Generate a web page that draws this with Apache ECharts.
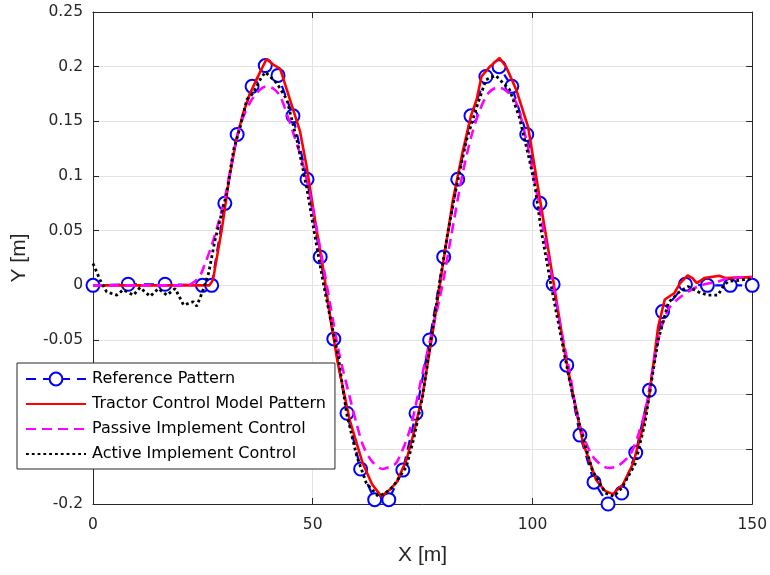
<!DOCTYPE html>
<html>
<head>
<meta charset="utf-8">
<script src="https://cdn.jsdelivr.net/npm/echarts@6/dist/echarts.min.js"></script>
<style>
  html, body { margin: 0; padding: 0; background: #fff; }
  #chart { width: 770px; height: 575px; }
</style>
</head>
<body>
<div id="chart"></div>
<script>
// Lateral offset Y [m] along travel distance X [m]

// Reference pattern (marked points)
const refX = [0, 8, 16.4, 24.9, 27.0, 30, 32.8, 36.2, 39.2, 42.1, 45.5, 48.7, 51.7, 54.8, 57.8, 60.9, 64.1, 67.3,
  70.5, 73.5, 76.6, 79.8, 83, 86, 89.4, 92.4, 95.3, 98.7, 101.7, 104.7, 107.8, 110.8, 114, 117.2, 120.3,
  123.5, 126.6, 129.6, 134.8, 139.8, 145, 150];
const refY = [0, 0.001, 0.001, 0, 0, 0.075, 0.138, 0.182, 0.201, 0.192, 0.155, 0.097, 0.026, -0.049, -0.117, -0.168, -0.196, -0.196,
  -0.169, -0.117, -0.05, 0.026, 0.097, 0.155, 0.191, 0.2, 0.182, 0.138, 0.075, 0.001, -0.073, -0.137, -0.18, -0.2, -0.19,
  -0.153, -0.096, -0.024, 0.001, 0, 0, 0];

// Tractor control model pattern
const tractorX = [0, 26.5, 27.3, 29.3, 31, 32.6, 34.2, 35.8, 38, 39.5, 41, 42.6, 44.8, 47.1, 48.6, 50.5, 52.5, 54, 55.7,
  58.4, 61.3, 63.5, 65.6, 67.5, 69.1, 71.3, 73, 75, 77.3, 79.5, 81.9, 84, 86, 87.3, 88.4, 90.3, 92.5, 94, 96.3, 99,
  100.1, 101.6, 103.5, 105.5, 107.5, 109.5, 111.5, 114.5, 116.5, 118.3, 120.6, 122.9, 124.8, 126.6, 128.6, 130.1,
  132.3, 133.6, 135.3, 136.4, 137.4, 139.1, 142.5, 144, 150];
const tractorY = [0, 0, 0.005, 0.051, 0.098, 0.133, 0.158, 0.176, 0.195, 0.207, 0.202, 0.198, 0.17, 0.141, 0.109, 0.06, 0.012, -0.03, -0.071,
  -0.123, -0.162, -0.182, -0.193, -0.187, -0.18, -0.16, -0.135, -0.1, -0.043, 0.016, 0.078, 0.12, 0.155, 0.17, 0.191, 0.2, 0.208, 0.2, 0.179, 0.145,
  0.118, 0.081, 0.035, -0.015, -0.065, -0.105, -0.144, -0.178, -0.188, -0.191, -0.182, -0.163, -0.135, -0.1, -0.038, -0.013,
  -0.007, 0.002, 0.009, 0.0066, 0.002, 0.0066, 0.0087, 0.0066, 0.0075];

// Passive implement control
const passiveX = [0, 21.5, 23, 24.5, 25.5, 26.8, 28.1, 30, 32.6, 34, 35.7, 37.5, 39.5, 41, 42.6, 44, 45.6, 47.9, 50, 52, 54, 56,
  58.4, 60, 61.5, 63.5, 65.9, 67.5, 69.1, 72.1, 75, 77, 79.5, 81.5, 84, 86, 88, 90, 92.1, 94, 96.3, 98.6, 100.5, 102.5,
  104.5, 106.5, 108.5, 110, 111.9, 114, 117.2, 119.5, 122.5, 125.5, 127, 128.6, 130.9, 133.9, 137.7, 142.2, 145.2, 150];
const passiveY = [0, 0, 0.003, 0.01, 0.02, 0.034, 0.051, 0.08, 0.133, 0.152, 0.167, 0.177, 0.182, 0.18, 0.173, 0.158, 0.139, 0.109, 0.07, 0.027, -0.018, -0.062,
  -0.102, -0.127, -0.147, -0.161, -0.168, -0.166, -0.162, -0.132, -0.08, -0.045, 0, 0.045, 0.1, 0.135, 0.16, 0.176, 0.181, 0.178, 0.167, 0.133, 0.095, 0.05,
  0.005, -0.04, -0.08, -0.115, -0.141, -0.158, -0.167, -0.165, -0.153, -0.117, -0.085, -0.05, -0.022, -0.01, -0.001, 0.0035, 0.007, 0.0075];

// Active implement control
const activeX = [0, 1.6, 3.1, 5.4, 6.9, 9.2, 10.7, 13, 14.9, 16.8, 18.7, 20.6, 22.8, 23.6, 24.8, 26.3, 27.8, 30.4, 32, 33.5,
  35, 36.5, 38, 39.2, 41.8, 44.1, 46.4, 48.6, 50.5, 52.5, 54, 55.8, 57.7, 60, 62.2, 64.9, 66.5, 68.3, 71.3, 73, 75, 76.9,
  79, 80.8, 82.7, 85, 87.3, 89.4, 91.6, 94.8, 97, 99.3, 100.6, 102, 104, 106.2, 108.4, 111, 113.6, 116.6, 118.5, 120.4,
  123.4, 125.6, 127, 128.6, 130.9, 133.1, 135.4, 137.7, 139.9, 142.2, 143.4, 144.5, 150];
const activeY = [0.02, 0.005, -0.006, -0.009, -0.004, -0.009, -0.002, -0.01, -0.003, -0.009, -0.003, -0.018, -0.015, -0.019, -0.007, 0.011, 0.042, 0.084, 0.124, 0.145,
  0.17, 0.176, 0.188, 0.195, 0.185, 0.17, 0.133, 0.09, 0.045, 0, -0.03, -0.065, -0.117, -0.156, -0.181, -0.193, -0.19, -0.184, -0.166, -0.14, -0.102, -0.05,
  0.005, 0.05, 0.09, 0.133, 0.163, 0.188, 0.192, 0.179, 0.154, 0.115, 0.09, 0.05, 0.005, -0.041, -0.086, -0.132, -0.169, -0.19, -0.193, -0.185,
  -0.163, -0.126, -0.09, -0.05, -0.016, -0.007, -0.001, -0.006, -0.009, -0.009, -0.001, 0.0035, 0.006];

const xTicks = { min: 0, max: 150, step: 50 };
const yTicks = { min: -0.2, max: 0.25, step: 0.05 };

function pairs(xs, ys) { return xs.map((x, i) => [x, ys[i]]); }

const TICK_FONT = '"DejaVu Sans", sans-serif';
const NAME_FONT = '"Liberation Sans", Arial, Helvetica, sans-serif';
const AXIS_COLOR = '#262626';
const GRID_COLOR = '#e3e3e3';

function fmtY(v) {
  const r = Math.round(v * 100) / 100;
  return String(r);
}

const chart = echarts.init(document.getElementById('chart'), null, { renderer: 'canvas' });

const baseAxisLine = { show: true, onZero: false, lineStyle: { color: AXIS_COLOR, width: 1 } };
const innerTick = { show: true, inside: true, length: 6, lineStyle: { color: AXIS_COLOR, width: 1 } };

// Lines drawn without markers get a hidden legend symbol
const noSymbolLegend = { itemStyle: { opacity: 0 } };

chart.setOption({
  animation: false,
  backgroundColor: '#ffffff',
  grid: { left: 93, right: 17, top: 12, bottom: 71, containLabel: false },
  xAxis: [
    {
      type: 'value', min: xTicks.min, max: xTicks.max, interval: xTicks.step,
      position: 'bottom',
      name: 'X [m]', nameLocation: 'middle', nameGap: 41,
      nameTextStyle: { fontFamily: NAME_FONT, fontSize: 21, color: AXIS_COLOR },
      axisLine: baseAxisLine, axisTick: innerTick,
      axisLabel: { fontFamily: TICK_FONT, fontSize: 15.5, color: AXIS_COLOR, margin: 13 },
      splitLine: { show: true, lineStyle: { color: GRID_COLOR, width: 1 } }
    },
    {
      type: 'value', min: xTicks.min, max: xTicks.max, interval: xTicks.step,
      position: 'top',
      axisLine: baseAxisLine, axisTick: innerTick,
      axisLabel: { show: false }, splitLine: { show: false }
    }
  ],
  yAxis: [
    {
      type: 'value', min: yTicks.min, max: yTicks.max, interval: yTicks.step,
      position: 'left',
      name: 'Y [m]', nameLocation: 'middle', nameGap: 63, nameRotate: 90,
      nameTextStyle: { fontFamily: NAME_FONT, fontSize: 21, color: AXIS_COLOR },
      axisLine: baseAxisLine, axisTick: innerTick,
      axisLabel: { fontFamily: TICK_FONT, fontSize: 15.5, color: AXIS_COLOR, margin: 10, formatter: fmtY },
      splitLine: { show: true, lineStyle: { color: GRID_COLOR, width: 1 } }
    },
    {
      type: 'value', min: yTicks.min, max: yTicks.max, interval: yTicks.step,
      position: 'right',
      axisLine: baseAxisLine, axisTick: innerTick,
      axisLabel: { show: false }, splitLine: { show: false }
    }
  ],
  legend: {
    orient: 'vertical',
    left: 17, top: 363,
    padding: [8, 9, 7, 8],
    itemGap: 9,
    itemWidth: 60,
    itemHeight: 16,
    backgroundColor: '#ffffff',
    borderColor: '#262626',
    borderWidth: 1,
    borderRadius: 0,
    textStyle: { fontFamily: TICK_FONT, fontSize: 16, color: '#000000', padding: [0, 0, 0, 1] },
    data: [
      { name: 'Reference Pattern' },
      Object.assign({ name: 'Tractor Control Model Pattern' }, noSymbolLegend),
      Object.assign({ name: 'Passive Implement Control' }, noSymbolLegend),
      Object.assign({ name: 'Active Implement Control' }, noSymbolLegend)
    ]
  },
  series: [
    {
      name: 'Reference Pattern', type: 'line',
      data: pairs(refX, refY),
      symbol: 'emptyCircle', symbolSize: 13, showSymbol: true,
      itemStyle: { color: '#0000ff', borderColor: '#0000ff', borderWidth: 2.8 },
      lineStyle: { color: '#0000ff', width: 2.2, type: [10, 7] },
      z: 2
    },
    {
      name: 'Tractor Control Model Pattern', type: 'line',
      data: pairs(tractorX, tractorY),
      symbol: 'none', showSymbol: false,
      itemStyle: { color: '#ff0000' },
      lineStyle: { color: '#ff0000', width: 2.6 },
      z: 3
    },
    {
      name: 'Passive Implement Control', type: 'line',
      data: pairs(passiveX, passiveY), smooth: 0.3,
      symbol: 'none', showSymbol: false,
      itemStyle: { color: '#ff00ff' },
      lineStyle: { color: '#ff00ff', width: 2.6, type: [10, 6] },
      z: 4
    },
    {
      name: 'Active Implement Control', type: 'line',
      data: pairs(activeX, activeY),
      symbol: 'none', showSymbol: false,
      itemStyle: { color: '#000000' },
      lineStyle: { color: '#000000', width: 2.8, type: [2.8, 3] },
      z: 5
    }
  ]
});
</script>
</body>
</html>
